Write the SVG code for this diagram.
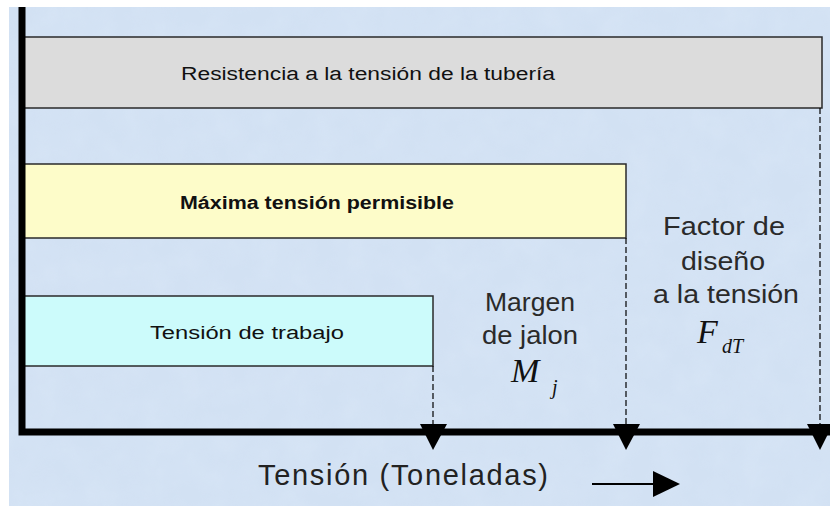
<svg xmlns="http://www.w3.org/2000/svg" width="830" height="506" viewBox="0 0 830 506">
  <defs>
    <filter id="tex" x="0" y="0" width="100%" height="100%">
      <feTurbulence type="fractalNoise" baseFrequency="0.035" numOctaves="3" seed="4" result="n"/>
      <feColorMatrix in="n" type="matrix" values="0 0 0 0 0.72  0 0 0 0 0.82  0 0 0 0 0.95  0 0 0 0.9 -0.25" result="c"/>
      <feComposite in="c" in2="SourceGraphic" operator="in"/>
    </filter>
  </defs>
  <style>
    .bar { stroke: #2a2a2a; stroke-width: 1.5; }
    .lbl { font-family: "Liberation Sans", Arial, sans-serif; font-size: 18px; fill: #111; text-anchor: middle; }
    .side { font-family: "Liberation Sans", Arial, sans-serif; font-size: 25px; fill: #2a2a2a; text-anchor: middle; }
    .math { font-family: "Liberation Serif", "Times New Roman", serif; font-style: italic; fill: #111; }
    .dash { stroke: #000; stroke-width: 1.2; stroke-dasharray: 6 3; fill: none; }
    .axis { stroke: #000; stroke-width: 7; fill: none; }
    .tri { fill: #000; }
  </style>
  <rect x="0" y="0" width="830" height="506" fill="#ffffff"/>
  <rect x="9" y="7" width="821" height="499" fill="#d2e1f3"/>
  <rect x="9" y="7" width="821" height="499" fill="#fff" filter="url(#tex)" opacity="0.6"/>

  <g id="resistencia">
    <rect class="bar" x="22" y="37" width="800" height="71" fill="#dcdcdc"/>
    <text class="lbl" x="368" y="80" textLength="374" lengthAdjust="spacingAndGlyphs">Resistencia a la tensión de la tubería</text>
  </g>
  <g id="maxima">
    <rect class="bar" x="22" y="164" width="604" height="74" fill="#fdfcc9"/>
    <text class="lbl" x="317" y="209" font-weight="bold" textLength="274" lengthAdjust="spacingAndGlyphs">Máxima tensión permisible</text>
  </g>
  <g id="trabajo">
    <rect class="bar" x="22" y="296" width="411" height="70" fill="#ccfbfb"/>
    <text class="lbl" x="247" y="339" textLength="194" lengthAdjust="spacingAndGlyphs">Tensión de trabajo</text>
  </g>
  <g id="margen">
    <text class="side" x="530" y="311" textLength="90" lengthAdjust="spacingAndGlyphs">Margen</text>
    <text class="side" x="530" y="344" textLength="96" lengthAdjust="spacingAndGlyphs">de jalon</text>
    <text class="math" x="511" y="382" font-size="34">M</text>
    <text class="math" x="552" y="394" font-size="20">j</text>
  </g>
  <g id="factor">
    <text class="side" x="724" y="235" textLength="122" lengthAdjust="spacingAndGlyphs">Factor de</text>
    <text class="side" x="723" y="270" textLength="84" lengthAdjust="spacingAndGlyphs">diseño</text>
    <text class="side" x="726" y="303" textLength="146" lengthAdjust="spacingAndGlyphs">a la tensión</text>
    <text class="math" x="697" y="343" font-size="34">F</text>
    <text class="math" x="722" y="353" font-size="20">dT</text>
  </g>
  <g id="eje">
    <path class="axis" d="M22,7 V432 H830"/>
    <text x="258" y="485" font-family="Liberation Sans, Arial, sans-serif" font-size="29" fill="#222" textLength="290" lengthAdjust="spacing">Tensión (Toneladas)</text>
  </g>
  <g id="connectors">
    <line class="dash" x1="433" y1="366" x2="433" y2="430"/>
    <line class="dash" x1="626" y1="238" x2="626" y2="430"/>
    <line class="dash" x1="820" y1="108" x2="820" y2="430"/>
    <path class="tri" d="M420,424 L447,424 L433,450 Z"/>
    <path class="tri" d="M613,424 L640,424 L626,450 Z"/>
    <path class="tri" d="M807,424 L830,424 L830,430 L820,450 Z"/>
    <line x1="592" y1="484" x2="656" y2="484" stroke="#000" stroke-width="2"/>
    <path class="tri" d="M653,471 L680,484 L653,497 Z"/>
  </g>
</svg>
